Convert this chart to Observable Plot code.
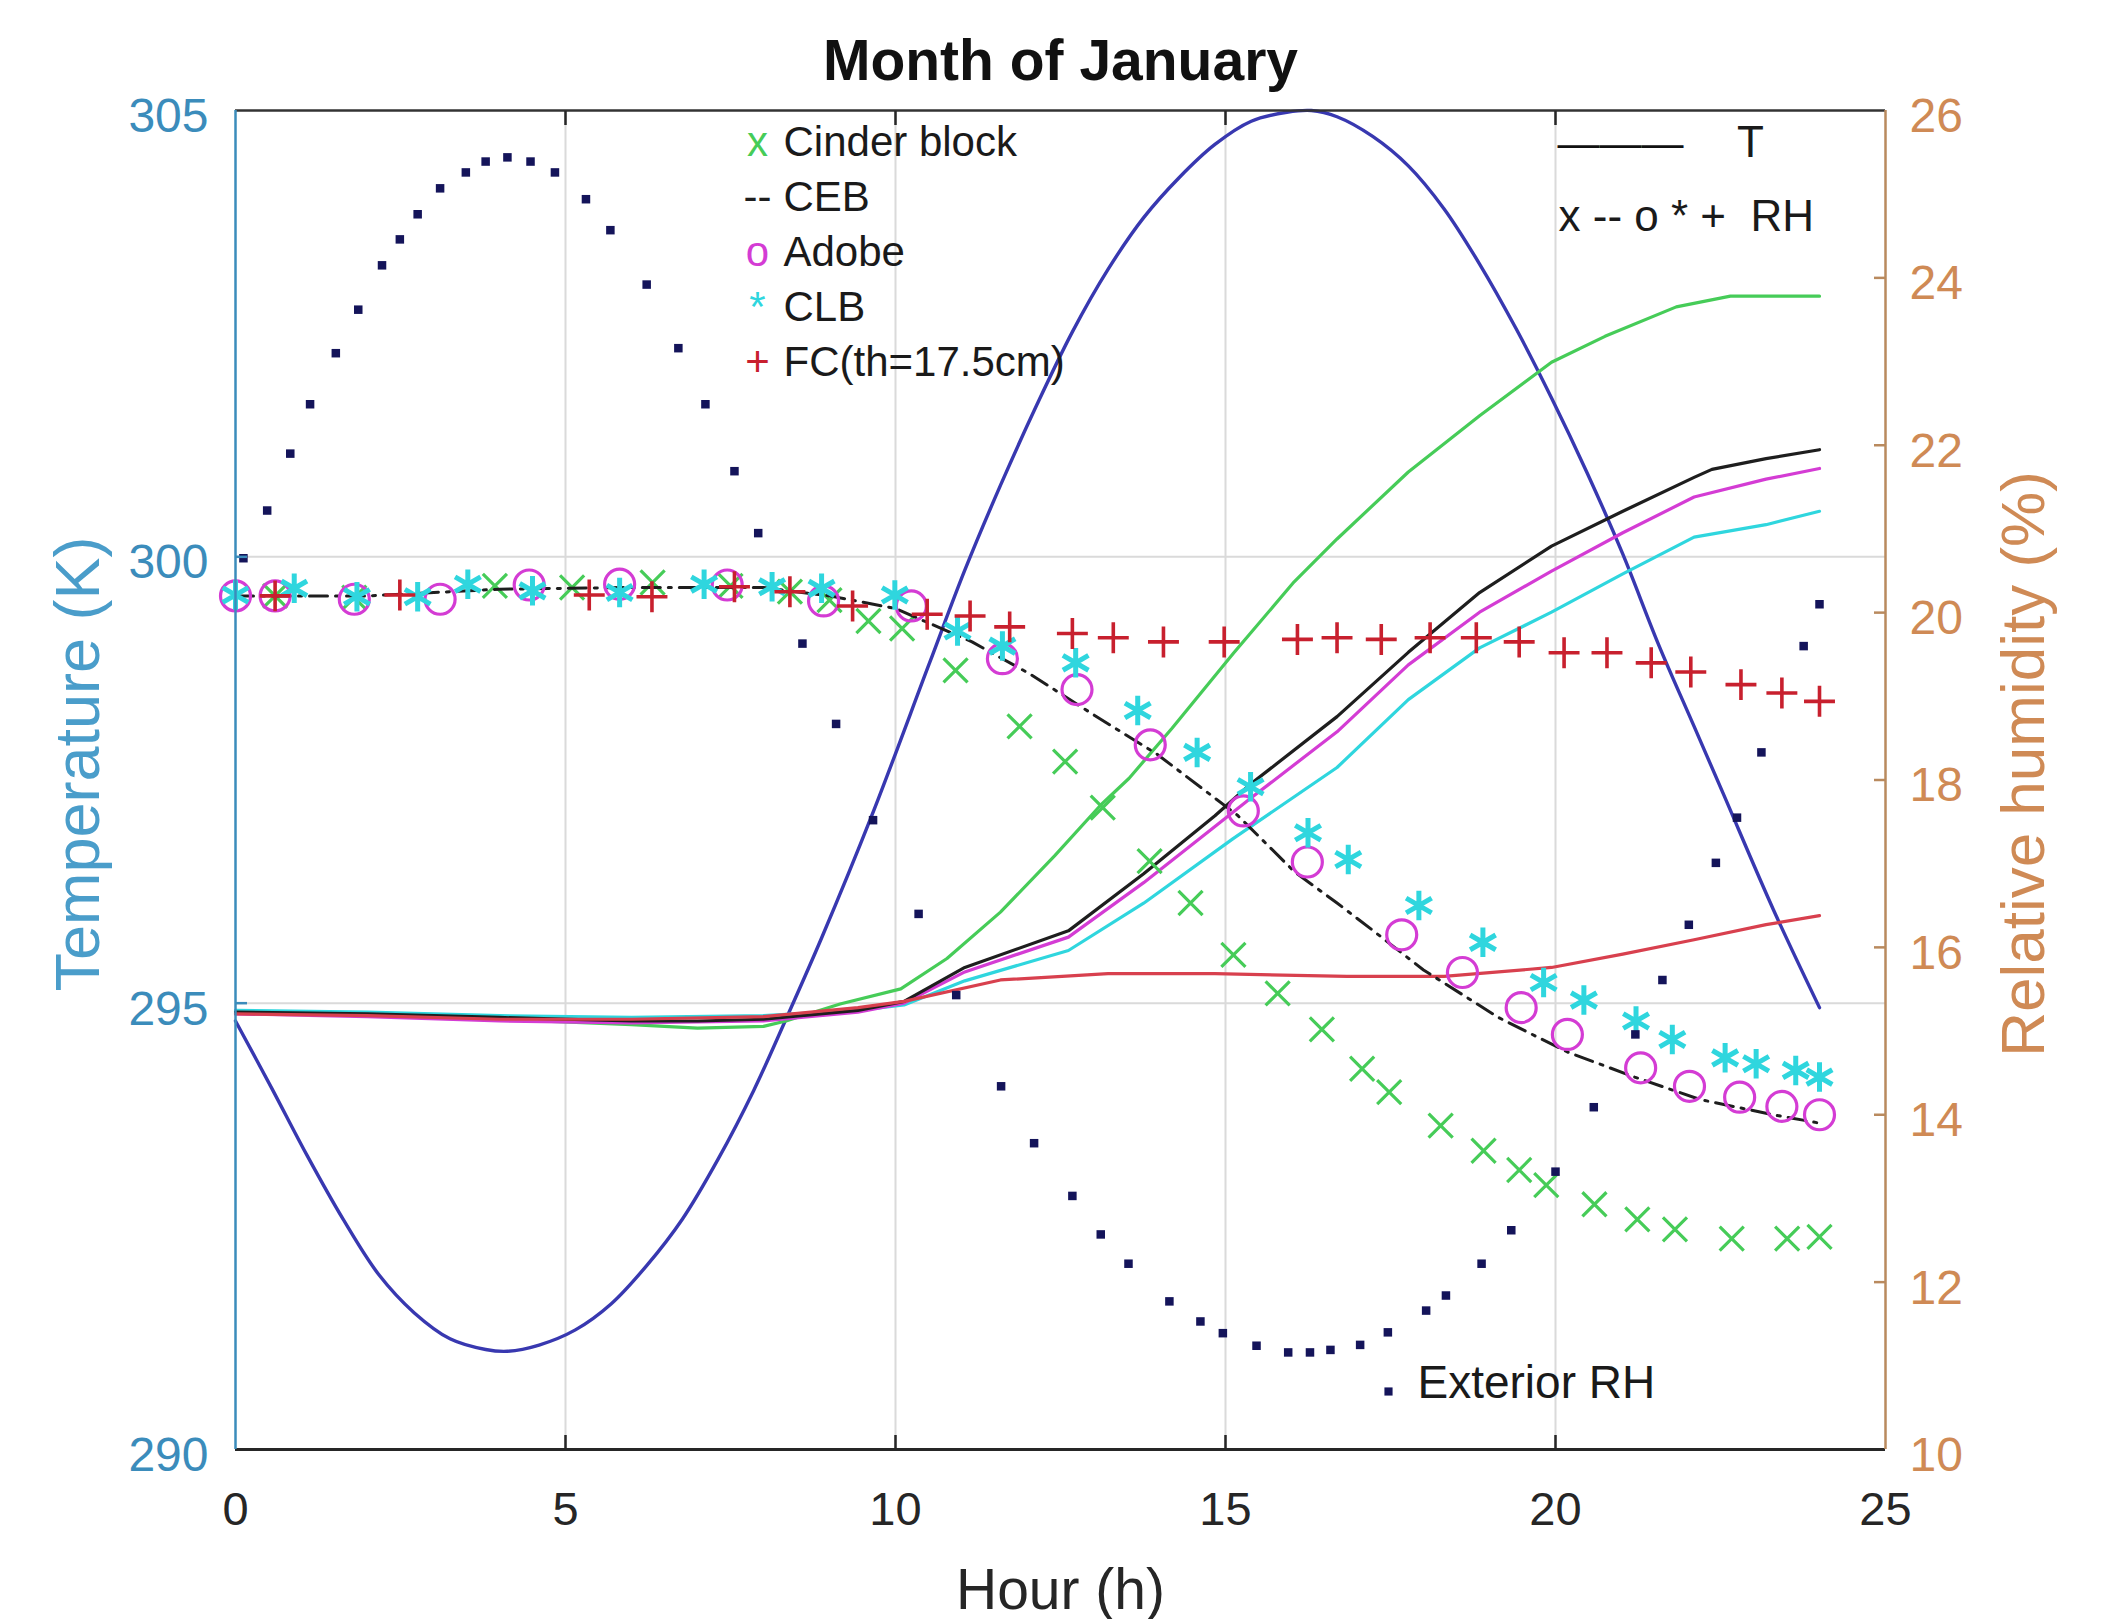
<!DOCTYPE html>
<html>
<head>
<meta charset="utf-8">
<script src="https://cdn.jsdelivr.net/npm/d3@7"></script>
<script src="https://cdn.jsdelivr.net/npm/@observablehq/plot@0.6"></script>
<style>
  html, body { margin: 0; padding: 0; background: #ffffff; }
  #chart svg { display: block; }
</style>
</head>
<body>
<div id="chart"></div>
<script>
// ---------------- tick labels ----------------
const hourTicks = [0, 5, 10, 15, 20, 25];
const tempTicks = [290, 295, 300, 305];
const rhTicks = [10, 12, 14, 16, 18, 20, 22, 24, 26];

// ---------------- temperature series (K, left axis) ----------------
const extTHours = [0, 0.54, 1.08, 1.63, 2.17, 2.71, 3.25, 3.79, 4.12, 4.6, 5.15, 5.69, 6.23, 6.77, 7.31, 7.85, 8.34, 8.88, 9.64, 10.51, 11.05, 11.59, 12.14, 12.68, 13.22, 13.76, 14.3, 14.84, 15.39, 15.93, 16.3, 16.69, 17.23, 17.77, 18.31, 18.85, 19.4, 19.94, 20.48, 21.02, 21.56, 22.1, 22.54, 23.3, 24.0];
const extT      = [294.8, 294.06, 293.3, 292.58, 291.96, 291.53, 291.24, 291.12, 291.1, 291.17, 291.34, 291.63, 292.06, 292.58, 293.25, 294.02, 294.82, 295.73, 297.1, 298.8, 299.85, 300.8, 301.7, 302.52, 303.22, 303.8, 304.25, 304.62, 304.88, 304.98, 305.0, 304.93, 304.71, 304.38, 303.9, 303.28, 302.56, 301.78, 300.94, 300.03, 299.02, 298.1, 297.35, 296.05, 294.95];

const cinderTHours = [0, 2, 4, 6, 7, 8, 8.34, 9.16, 10.08, 10.78, 11.59, 12.41, 13.11, 13.54, 14.19, 15.12, 16.04, 16.69, 17.77, 18.85, 19.94, 20.75, 21.83, 22.65, 24];
const cinderT      = [294.9, 294.88, 294.82, 294.76, 294.72, 294.74, 294.8, 294.99, 295.16, 295.5, 296.02, 296.65, 297.22, 297.52, 298.08, 298.92, 299.72, 300.2, 300.95, 301.58, 302.18, 302.47, 302.8, 302.92, 302.92];

const cebTHours = [0, 2, 4, 6, 7, 8, 9.43, 10.13, 11.05, 12.62, 13.76, 14.84, 15.39, 16.69, 17.77, 18.85, 19.94, 21.02, 22.1, 22.37, 23.19, 24];
const cebT      = [294.9, 294.88, 294.84, 294.8, 294.8, 294.82, 294.92, 295.02, 295.4, 295.81, 296.45, 297.1, 297.46, 298.21, 298.93, 299.6, 300.12, 300.51, 300.89, 300.98, 301.1, 301.2];

const adobeTHours = [0, 2, 4, 6, 8, 9.43, 10.13, 11.05, 12.62, 13.76, 14.84, 15.39, 16.69, 17.77, 18.85, 19.94, 21.02, 22.1, 23.19, 24];
const adobeT      = [294.88, 294.85, 294.8, 294.78, 294.8, 294.9, 295.0, 295.35, 295.74, 296.35, 296.98, 297.3, 298.04, 298.79, 299.38, 299.84, 300.27, 300.67, 300.87, 300.99];

const clbTHours = [0, 2, 4, 6, 8, 9.43, 10.13, 11.05, 12.62, 13.76, 15.11, 16.69, 17.77, 18.85, 19.94, 21.02, 22.1, 23.19, 24];
const clbT      = [294.92, 294.9, 294.86, 294.84, 294.86, 294.92, 294.98, 295.25, 295.59, 296.12, 296.84, 297.64, 298.4, 298.98, 299.38, 299.81, 300.22, 300.36, 300.51];

const fcTHours = [0, 2, 4, 6, 8, 9.43, 10.13, 11.59, 13.22, 14.84, 16.84, 18.31, 19.94, 21.02, 22.1, 23.19, 24];
const fcT      = [294.88, 294.86, 294.82, 294.82, 294.85, 294.95, 295.02, 295.26, 295.33, 295.33, 295.3, 295.3, 295.4, 295.55, 295.71, 295.88, 295.98];

// ---------------- relative humidity series (%, right axis) ----------------
const extRHHours = [0.12, 0.48, 0.83, 1.13, 1.52, 1.86, 2.22, 2.49, 2.76, 3.1, 3.49, 3.79, 4.12, 4.47, 4.84, 5.31, 5.68, 6.23, 6.71, 7.12, 7.56, 7.92, 8.59, 9.1, 9.66, 10.35, 10.92, 11.6, 12.1, 12.68, 13.11, 13.53, 14.15, 14.62, 14.96, 15.47, 15.95, 16.28, 16.59, 17.04, 17.46, 18.04, 18.34, 18.88, 19.33, 20.0, 20.58, 21.21, 21.62, 22.02, 22.43, 22.75, 23.12, 23.76, 24.0];
const extRH      = [20.65, 21.22, 21.9, 22.49, 23.1, 23.62, 24.15, 24.46, 24.76, 25.07, 25.26, 25.39, 25.44, 25.39, 25.26, 24.94, 24.57, 23.92, 23.16, 22.49, 21.69, 20.95, 19.63, 18.67, 17.52, 16.4, 15.43, 14.34, 13.66, 13.03, 12.57, 12.22, 11.77, 11.53, 11.39, 11.24, 11.16, 11.16, 11.19, 11.25, 11.4, 11.66, 11.84, 12.22, 12.62, 13.32, 14.09, 14.96, 15.61, 16.27, 17.01, 17.55, 18.33, 19.6, 20.1];

const cinderRHHours = [0.6, 1.8, 3.93, 5.1, 6.32, 7.5, 8.4, 9.0, 9.59, 10.1, 10.91, 11.88, 12.57, 13.14, 13.85, 14.47, 15.12, 15.79, 16.46, 17.07, 17.48, 18.26, 18.91, 19.45, 19.86, 20.59, 21.24, 21.81, 22.67, 23.51, 24.0];
const cinderRH      = [20.2, 20.18, 20.32, 20.3, 20.36, 20.32, 20.25, 20.15, 19.9, 19.81, 19.31, 18.64, 18.22, 17.67, 17.03, 16.53, 15.91, 15.45, 15.02, 14.55, 14.27, 13.87, 13.57, 13.34, 13.16, 12.93, 12.75, 12.63, 12.52, 12.52, 12.54];

const cebRHHours = [0, 2, 4, 6, 8, 9, 10, 11.16, 12.03, 13.0, 13.96, 15.18, 16.05, 16.69, 17.22, 18.0, 19.14, 20.18, 21.2, 22.2, 23.3, 24];
const cebRH      = [20.2, 20.2, 20.28, 20.3, 20.3, 20.2, 20.05, 19.65, 19.27, 18.78, 18.31, 17.58, 16.9, 16.53, 16.21, 15.73, 15.16, 14.75, 14.45, 14.18, 14.0, 13.9];

const adobeRHHours = [0, 0.6, 1.8, 3.1, 4.45, 5.82, 7.45, 8.91, 10.24, 11.62, 12.75, 13.86, 15.27, 16.24, 17.67, 18.59, 19.48, 20.18, 21.29, 22.03, 22.79, 23.43, 24.0];
const adobeRH      = [20.2, 20.2, 20.16, 20.16, 20.33, 20.34, 20.33, 20.14, 20.08, 19.45, 19.08, 18.42, 17.63, 17.02, 16.15, 15.7, 15.28, 14.96, 14.56, 14.34, 14.21, 14.1, 14.0];

const clbRHHours = [0, 0.89, 1.84, 2.76, 3.52, 4.5, 5.82, 7.1, 8.13, 8.88, 9.99, 10.94, 11.62, 12.73, 13.67, 14.57, 15.38, 16.25, 16.86, 17.93, 18.9, 19.82, 20.43, 21.22, 21.77, 22.57, 23.04, 23.64, 24.0];
const clbRH      = [20.21, 20.29, 20.19, 20.19, 20.34, 20.26, 20.24, 20.34, 20.31, 20.29, 20.21, 19.78, 19.6, 19.4, 18.83, 18.33, 17.92, 17.37, 17.05, 16.5, 16.06, 15.58, 15.37, 15.12, 14.9, 14.68, 14.61, 14.53, 14.45];

const fcRHHours = [0.6, 2.49, 5.36, 6.31, 7.56, 8.4, 9.35, 10.48, 11.13, 11.73, 12.68, 13.3, 14.06, 14.98, 16.09, 16.69, 17.36, 18.1, 18.8, 19.45, 20.13, 20.78, 21.45, 22.05, 22.81, 23.43, 24.0];
const fcRH      = [20.2, 20.21, 20.21, 20.19, 20.31, 20.25, 20.08, 19.98, 19.96, 19.83, 19.75, 19.7, 19.65, 19.65, 19.68, 19.7, 19.68, 19.7, 19.7, 19.65, 19.52, 19.52, 19.4, 19.29, 19.14, 19.04, 18.94];

// ---------------- legend texts ----------------
const legendMarkers = ["x", "--", "o", "*", "+"];
const legendNames = ["Cinder block", "CEB", "Adobe", "CLB", "FC(th=17.5cm)"];

// ---------------- styling ----------------
const C = {
  extT: "#3838b0", extRH: "#14145a",
  cinder: "#46cc58", ceb: "#1e1e1e", adobe: "#d43cd4", clb: "#2fd6de",
  fcMark: "#c8202e", fcLine: "#d8404e",
  left: "#3b8cbb", leftLabel: "#4a9dca", right: "#cf8a55", rightAxis: "#b98a5e",
  ink: "#262626", grid: "#dadada"
};
const font = "'Liberation Sans', Arial, Helvetica, sans-serif";

// map RH (right axis) into the temperature (left axis) coordinate
const rhToT = rh => tempTicks[0] + (rh - rhTicks[0]) * (tempTicks[tempTicks.length - 1] - tempTicks[0]) / (rhTicks[rhTicks.length - 1] - rhTicks[0]);
const tToRh = t => rhTicks[0] + (t - tempTicks[0]) * (rhTicks[rhTicks.length - 1] - rhTicks[0]) / (tempTicks[tempTicks.length - 1] - tempTicks[0]);
const pts = (hs, vs) => hs.map((h, i) => ({h, v: vs[i]}));
const rhY = d => rhToT(d.v);

const legendRows = legendNames.map((name, i) => ({i, marker: legendMarkers[i], name}));
const legendColors = [C.cinder, C.ceb, C.adobe, C.clb, C.fcMark];
const T = (s, o) => Plot.text([s], {text: d => d, lineAnchor: "middle", ...o});

const chart = Plot.plot({
  width: 2109,
  height: 1619,
  marginLeft: 235,
  marginRight: 224,
  marginTop: 110,
  marginBottom: 170,
  style: {fontFamily: font, background: "#ffffff", overflow: "visible"},
  x: {domain: [hourTicks[0], hourTicks[hourTicks.length - 1]], axis: null},
  y: {domain: [tempTicks[0], tempTicks[tempTicks.length - 1]], axis: null},
  marks: [
    // grid
    Plot.gridX({ticks: hourTicks.slice(1, -1), stroke: C.grid, strokeOpacity: 1, strokeWidth: 2}),
    Plot.gridY({ticks: tempTicks.slice(1, -1), stroke: C.grid, strokeOpacity: 1, strokeWidth: 2}),

    // temperature lines
    Plot.line(pts(extTHours, extT), {x: "h", y: "v", stroke: C.extT, strokeWidth: 3.4, curve: "catmull-rom"}),
    Plot.line(pts(cinderTHours, cinderT), {x: "h", y: "v", stroke: C.cinder, strokeWidth: 3.2}),
    Plot.line(pts(clbTHours, clbT), {x: "h", y: "v", stroke: C.clb, strokeWidth: 3.2}),
    Plot.line(pts(adobeTHours, adobeT), {x: "h", y: "v", stroke: C.adobe, strokeWidth: 3.2}),
    Plot.line(pts(cebTHours, cebT), {x: "h", y: "v", stroke: C.ceb, strokeWidth: 3.2}),
    Plot.line(pts(fcTHours, fcT), {x: "h", y: "v", stroke: C.fcLine, strokeWidth: 3.2}),

    // relative humidity series
    Plot.dot(pts(cinderRHHours, cinderRH), {x: "h", y: rhY, symbol: "times", r: 11, stroke: C.cinder, strokeWidth: 3.2}),
    Plot.line(pts(cebRHHours, cebRH), {x: "h", y: rhY, stroke: C.ceb, strokeWidth: 3, strokeDasharray: "18,8,3,8"}),
    Plot.dot(pts(adobeRHHours, adobeRH), {x: "h", y: rhY, symbol: "circle", r: 15, stroke: C.adobe, fill: "none", strokeWidth: 3.2}),
    Plot.dot(pts(clbRHHours, clbRH), {x: "h", y: rhY, symbol: "asterisk", r: 14, stroke: C.clb, strokeWidth: 5}),
    Plot.dot(pts(fcRHHours, fcRH), {x: "h", y: rhY, symbol: "plus", r: 10, stroke: C.fcMark, strokeWidth: 3.6}),
    Plot.dot(pts(extRHHours, extRH), {x: "h", y: rhY, symbol: "square", r: 4.8, fill: C.extRH, stroke: "none"}),

    // axis lines
    Plot.ruleY([tempTicks[0]], {stroke: C.ink, strokeWidth: 3}),
    Plot.ruleY([tempTicks[tempTicks.length - 1]], {stroke: "#333333", strokeWidth: 2.5}),
    Plot.ruleX([hourTicks[0]], {stroke: C.left, strokeWidth: 2.5}),
    Plot.ruleX([hourTicks[hourTicks.length - 1]], {stroke: C.rightAxis, strokeWidth: 2.5}),

    // inward tick marks
    Plot.axisX({ticks: hourTicks.slice(1, -1), anchor: "bottom", text: null, label: null, tickSize: 14, dy: -14, stroke: C.ink, strokeWidth: 2.5}),
    Plot.axisX({ticks: hourTicks.slice(1, -1), anchor: "top", text: null, label: null, tickSize: 14, dy: 14, stroke: C.ink, strokeWidth: 2.5}),
    Plot.axisY({ticks: tempTicks.slice(1, -1), anchor: "left", text: null, label: null, tickSize: 12, dx: 12, stroke: C.left, strokeWidth: 2.5}),
    Plot.axisY({ticks: rhTicks.slice(1, -1).map(rhToT), anchor: "right", text: null, label: null, tickSize: 12, dx: -12, stroke: C.rightAxis, strokeWidth: 2.5}),

    // tick labels
    Plot.axisX({ticks: hourTicks, anchor: "bottom", label: null, tickSize: 0, tickPadding: 42, fontSize: 47, fill: C.ink, stroke: "none"}),
    Plot.axisY({ticks: tempTicks, anchor: "left", label: null, tickSize: 0, tickPadding: 27, fontSize: 48, fill: C.left, stroke: "none", dy: 6}),
    Plot.axisY({ticks: rhTicks.map(rhToT), anchor: "right", label: null, tickSize: 0, tickPadding: 24, fontSize: 48, fill: C.right, stroke: "none", dy: 6,
      tickFormat: t => String(Math.round(tToRh(t)))}),

    // titles
    T("Month of January", {frameAnchor: "top", dy: -49, fontSize: 57, fontWeight: "bold", fill: "#111111", textAnchor: "middle"}),
    T("Hour (h)", {frameAnchor: "bottom", dy: 141, fontSize: 57, fill: C.ink, textAnchor: "middle"}),
    T("Temperature (K)", {frameAnchor: "left", rotate: -90, dx: -157, dy: -16, fontSize: 63, fill: C.leftLabel, textAnchor: "middle"}),
    T("Relative humidity (%)", {frameAnchor: "right", rotate: -90, dx: 139, dy: -16, fontSize: 62, fill: C.right, textAnchor: "middle"}),

    // legend: markers per material (top-left)
    ...legendRows.map(r => Plot.text([r], {text: "marker", lineAnchor: "middle", frameAnchor: "top-left", dx: 522, dy: 32 + r.i * 55, fontSize: 42, fill: legendColors[r.i], textAnchor: "middle"})),
    ...legendRows.map(r => Plot.text([r], {text: "name", lineAnchor: "middle", frameAnchor: "top-left", dx: 548, dy: 32 + r.i * 55, fontSize: 42, fill: "#1a1a1a", textAnchor: "start"})),

    // legend: line style key (top-right)
    T("———", {frameAnchor: "top-right", dx: -265, dy: 33, fontSize: 42, fill: "#111111", textAnchor: "middle"}),
    T("T", {frameAnchor: "top-right", dx: -135, dy: 32, fontSize: 44, fill: "#1a1a1a", textAnchor: "middle"}),
    T("x -- o * +  RH", {frameAnchor: "top-right", dx: -327, dy: 106, fontSize: 44, fill: "#1a1a1a", textAnchor: "start"}),

    // legend: exterior RH (bottom)
    Plot.dot([0], {frameAnchor: "bottom-left", dx: 1153, dy: -58, symbol: "square", r: 4.6, fill: C.extRH}),
    T("Exterior RH", {frameAnchor: "bottom-left", dx: 1182, dy: -66, fontSize: 46, fill: "#1a1a1a", textAnchor: "start"})
  ]
});

// keep whitespace in the key text
d3.select(chart).selectAll("text").style("white-space", "pre");
document.getElementById("chart").appendChild(chart);
</script>
</body>
</html>
